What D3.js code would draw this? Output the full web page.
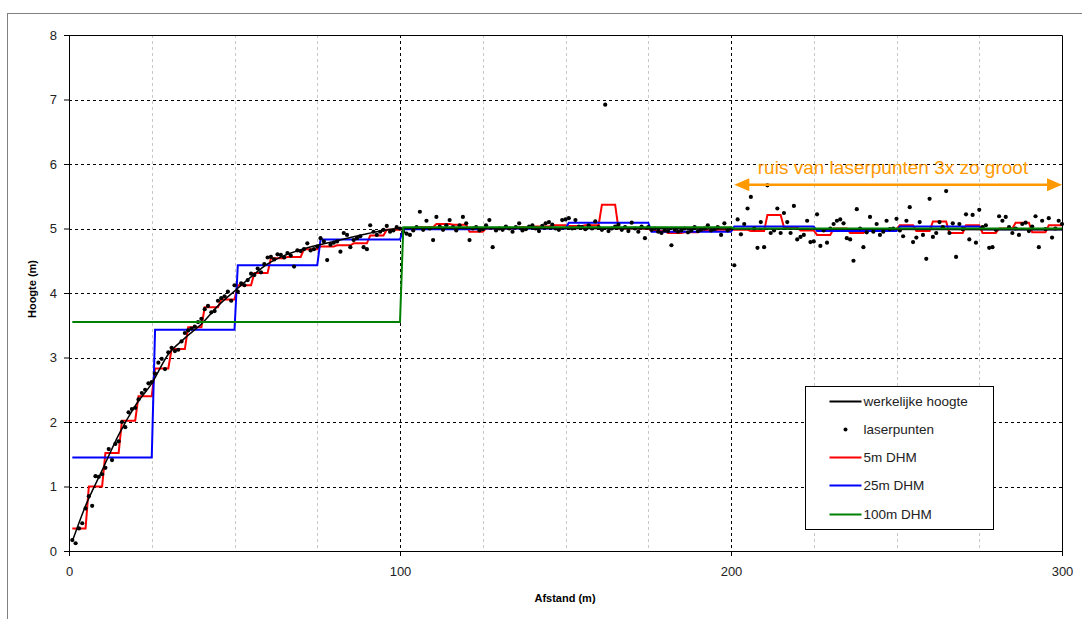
<!DOCTYPE html>
<html>
<head>
<meta charset="utf-8">
<script src="https://cdn.jsdelivr.net/npm/d3@7"></script>
<style>
  body { margin: 0; background: #fff; }
  svg { font-family: "Liberation Sans", Arial, sans-serif; }
</style>
</head>
<body>
<div id="chart"></div>
<script>
// true height profile (m)
const trueX = [1, 5, 10, 15, 20, 25, 30, 35, 40, 45, 50, 55, 60, 65, 70, 75, 80, 85, 90, 95, 100, 300];
const trueH = [0.15, 0.7, 1.25, 1.8, 2.25, 2.6, 3.05, 3.3, 3.52, 3.8, 4.03, 4.25, 4.45, 4.58, 4.67, 4.74, 4.8, 4.86, 4.92, 4.97, 5.0, 4.98];

// laser points, one per metre (x = 1 .. 300)
const laserH = [
  0.17, 0.12, 0.35, 0.43, 0.66, 0.85, 0.7, 1.16, 1.15, 1.19,
  1.29, 1.58, 1.41, 1.66, 1.7, 2.0, 1.92, 2.15, 2.2, 2.22,
  2.35, 2.45, 2.5, 2.6, 2.62, 2.75, 2.92, 2.98, 2.82, 3.08,
  3.15, 3.1, 3.12, 3.25, 3.38, 3.42, 3.45, 3.48, 3.55, 3.6,
  3.75, 3.8, 3.7, 3.72, 3.88, 3.92, 3.95, 4.02, 3.88, 4.12,
  4.02, 4.15, 4.12, 4.2, 4.3, 4.28, 4.38, 4.32, 4.45, 4.55,
  4.56, 4.52, 4.6, 4.59, 4.55, 4.62, 4.58, 4.41, 4.66, 4.65,
  4.68, 4.77, 4.66, 4.68, 4.72, 4.85, 4.8, 4.51, 4.75, 4.78,
  4.8, 4.64, 4.93, 4.9, 4.71, 4.82, 4.85, 4.88, 4.71, 4.68,
  5.05, 4.95, 4.9, 4.95, 4.98, 5.04, 4.95, 4.97, 5.02, 5.0,
  4.95, 4.92, 4.9, 4.97, 5.02, 5.26, 4.98, 5.12, 5.0, 4.82,
  5.18, 5.03, 4.98, 5.05, 5.13, 5.02, 4.97, 5.05, 5.18, 5.08,
  4.82, 5.0, 5.02, 4.97, 4.99, 5.05, 5.13, 4.71, 4.97, 5.0,
  4.98, 5.03, 5.0, 4.95, 5.02, 5.08, 4.97, 4.99, 5.03, 5.05,
  5.0, 4.96, 5.04, 5.08, 5.1, 5.06, 5.0, 4.98, 5.13, 5.14,
  5.16, 5.0, 5.13, 5.03, 5.02, 4.99, 5.05, 5.0, 5.11, 5.02,
  4.98, 6.92, 4.96, 5.0, 5.03, 5.06, 4.98, 5.02, 4.96, 5.09,
  5.0, 4.95, 5.03, 4.85, 5.02, 4.98, 5.0, 4.95, 4.93, 4.97,
  4.96, 4.74, 4.98, 4.95, 4.97, 5.0, 4.94, 4.97, 5.02, 4.96,
  4.98, 5.0, 5.05, 4.97, 4.99, 5.02, 4.9, 5.08, 4.97, 5.0,
  4.43, 5.14, 4.91, 5.07, 5.31, 5.49, 5.0, 4.7, 5.1, 4.71,
  5.67, 4.93, 4.97, 5.31, 4.93, 5.24, 5.1, 4.93, 5.35, 4.83,
  4.87, 4.9, 5.12, 4.79, 4.8, 5.22, 4.73, 4.97, 4.78, 5.0,
  5.07, 5.12, 5.14, 5.08, 4.85, 4.83, 4.5, 5.3, 5.0, 4.71,
  4.94, 5.18, 4.95, 5.07, 4.9, 4.95, 5.12, 4.99, 5.0, 5.15,
  4.97, 4.88, 5.12, 5.33, 4.79, 4.86, 5.1, 4.9, 4.53, 5.46,
  4.87, 4.93, 5.1, 5.02, 5.58, 4.93, 5.08, 4.56, 5.07, 4.99,
  5.22, 4.83, 5.21, 4.78, 5.29, 5.02, 5.05, 4.7, 4.71, 4.98,
  5.19, 5.12, 5.18, 5.02, 4.93, 5.0, 4.9, 5.07, 5.09, 4.96,
  5.03, 5.19, 4.71, 5.12, 4.99, 5.16, 4.86, 5.0, 5.12, 5.07
];

// DHM block heights
const dhm5 = [
  0.35, 1.0, 1.52, 2.02, 2.4, 2.83, 3.13, 3.47, 3.78, 3.9,
  4.12, 4.31, 4.54, 4.56, 4.68, 4.72, 4.74, 4.77, 4.89, 4.98,
  5.0, 5.02, 5.07, 5.06, 4.95, 5.0, 5.0, 5.02, 5.03, 5.05,
  5.04, 5.05, 5.37, 5.0, 5.0, 4.96, 4.93, 4.94, 4.97, 4.98,
  4.98, 4.96, 5.21, 5.02, 4.97, 4.9, 5.0, 4.93, 4.97, 4.99,
  5.05, 4.96, 5.11, 4.93, 5.05, 4.93, 5.0, 5.09, 4.94, 5.05
];
const dhm25 = [1.45, 3.43, 4.43, 4.83, 4.99, 5.0, 5.09, 4.95, 5.03, 4.96, 5.03, 4.99];
const dhm100 = [3.55, 5.02, 5.0];

const xTicks = [0, 100, 200, 300];
const yTicks = [0, 1, 2, 3, 4, 5, 6, 7, 8];

const W = 1082, H = 619;
const margin = {top: 35, right: 20, bottom: 68, left: 69};
const width = 993, height = 516;

const svg = d3.select("#chart")
    .append("svg")
    .attr("width", W)
    .attr("height", H);

// outer chart frame
svg.append("rect")
    .attr("x", 7.5).attr("y", 13.5)
    .attr("width", W).attr("height", H)
    .attr("fill", "none")
    .attr("stroke", "#808080");

const g = svg.append("g")
    .attr("transform", `translate(${margin.left},${margin.top})`);

const x = d3.scaleLinear().domain([0, 300]).range([0, width]);
const y = d3.scaleLinear().domain([0, 8]).range([height, 0]);

// vertical grid: light every 25, dark every 100
g.selectAll(".vgrid")
    .data(d3.range(25, 300, 25))
    .join("line")
    .attr("x1", d => Math.round(x(d)) + 0.5)
    .attr("x2", d => Math.round(x(d)) + 0.5)
    .attr("y1", 0).attr("y2", height)
    .attr("stroke", d => d % 100 === 0 ? "#000" : "#c8c8c8")
    .attr("stroke-dasharray", "3,3");

// horizontal grid
g.selectAll(".hgrid")
    .data(yTicks.filter(d => d > 0 && d < 8))
    .join("line")
    .attr("x1", 0).attr("x2", width)
    .attr("y1", d => Math.round(y(d)) + 0.5)
    .attr("y2", d => Math.round(y(d)) + 0.5)
    .attr("stroke", "#000")
    .attr("stroke-dasharray", "3,3");

// top and right border of plot area
g.append("path")
    .attr("d", `M0,0.5H${width + 0.5}V${height}`)
    .attr("fill", "none")
    .attr("stroke", "#000");

// axes
const xAxis = g.append("g")
    .attr("transform", `translate(0,${height})`)
    .call(d3.axisBottom(x).tickValues(xTicks).tickSize(5).tickPadding(11));
const yAxis = g.append("g")
    .call(d3.axisLeft(y).tickValues(yTicks).tickSize(5).tickPadding(7));
[xAxis, yAxis].forEach(a => {
    a.selectAll("text").style("font-size", "13px").attr("fill", "#222")
        .style("font-family", "'Liberation Sans', Arial, sans-serif");
    a.selectAll("line,path").attr("stroke", "#000");
});

// axis titles
g.append("text")
    .attr("x", 496).attr("y", height + 51)
    .attr("text-anchor", "middle")
    .style("font-size", "11px").style("font-weight", "bold")
    .text("Afstand (m)");
g.append("text")
    .attr("transform", `translate(-33,${y(4) - 4}) rotate(-90)`)
    .attr("text-anchor", "middle")
    .style("font-size", "11px").style("font-weight", "bold")
    .text("Hoogte (m)");

// build step points from block heights (1 m samples)
function steps(vals, w) {
    const pts = [];
    vals.forEach((v, i) => {
        pts.push([i * w + 1, v]);
        pts.push([(i + 1) * w, v]);
    });
    return pts;
}

const line = d3.line().x(d => x(d[0])).y(d => y(d[1]));

g.append("path")
    .datum(steps(dhm5, 5))
    .attr("d", line)
    .attr("fill", "none").attr("stroke", "#ff0000").attr("stroke-width", 2);

g.append("path")
    .datum(steps(dhm25, 25))
    .attr("d", line)
    .attr("fill", "none").attr("stroke", "#0000ff").attr("stroke-width", 2);

g.append("path")
    .datum(trueX.map((d, i) => [d, trueH[i]]))
    .attr("d", line.curve(d3.curveMonotoneX))
    .attr("fill", "none").attr("stroke", "#000").attr("stroke-width", 1.5);
line.curve(d3.curveLinear);

g.selectAll(".laser")
    .data(laserH)
    .join("circle")
    .attr("cx", (d, i) => x(i + 1))
    .attr("cy", d => y(d))
    .attr("r", 2.1)
    .attr("fill", "#000");

g.append("path")
    .datum(steps(dhm100, 100))
    .attr("d", line)
    .attr("fill", "none").attr("stroke", "#008000").attr("stroke-width", 2);

// annotation
const orange = "#ff9900";
const ay = y(5.68);
const ax0 = x(201), ax1 = x(300);
g.append("line")
    .attr("x1", ax0 + 10).attr("x2", ax1 - 10)
    .attr("y1", ay).attr("y2", ay)
    .attr("stroke", orange).attr("stroke-width", 2.5);
g.append("path")
    .attr("d", `M${ax0},${ay}l15,-6.5v13z`)
    .attr("fill", orange);
g.append("path")
    .attr("d", `M${ax1},${ay}l-15,-6.5v13z`)
    .attr("fill", orange);
g.append("text")
    .attr("x", 893 - margin.left).attr("y", ay - 11)
    .attr("text-anchor", "middle")
    .attr("fill", orange)
    .style("font-size", "19px")
    .text("ruis van laserpunten 3x zo groot");

// legend
const legend = svg.append("g").attr("transform", "translate(805.5,386.5)");
legend.append("rect")
    .attr("width", 188).attr("height", 143)
    .attr("fill", "#fff").attr("stroke", "#000");
const legItems = [
    {name: "werkelijke hoogte", color: "#000", type: "line"},
    {name: "laserpunten", color: "#000", type: "dot"},
    {name: "5m DHM", color: "#ff0000", type: "line"},
    {name: "25m DHM", color: "#0000ff", type: "line"},
    {name: "100m DHM", color: "#008000", type: "line"}
];
const rowY = [15, 43, 71, 99, 128];
legItems.forEach((it, i) => {
    const ly = rowY[i];
    if (it.type === "line") {
        legend.append("line")
            .attr("x1", 24).attr("x2", 56).attr("y1", ly).attr("y2", ly)
            .attr("stroke", it.color).attr("stroke-width", 2);
    } else {
        legend.append("circle").attr("cx", 40).attr("cy", ly).attr("r", 2)
            .attr("fill", it.color);
    }
    legend.append("text")
        .attr("x", 58).attr("y", ly + 4.5)
        .attr("fill", "#222")
        .style("font-size", "13.5px")
        .text(it.name);
});
</script>
</body>
</html>
